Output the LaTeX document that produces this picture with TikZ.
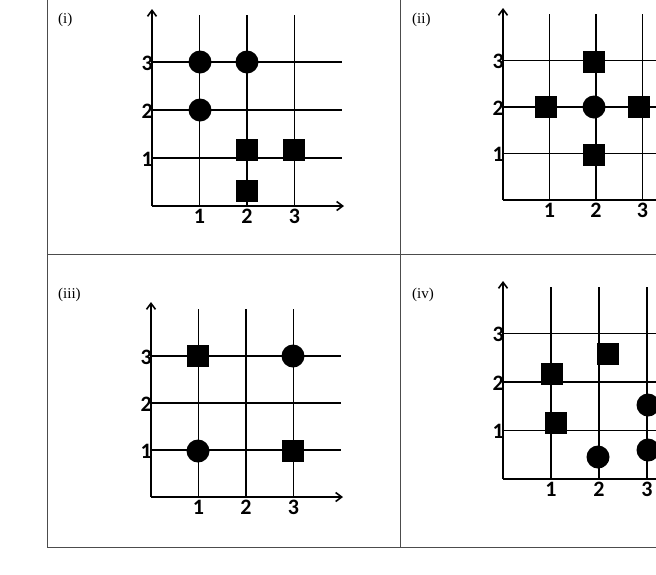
\documentclass[tikz,border=0pt]{standalone}
\usepackage{fontspec}
\setmainfont{Liberation Serif}
\newfontfamily\numfont{Carlito}
\begin{document}
\begin{tikzpicture}[x=1pt,y=-1pt,
  gl/.style={line width=1.6pt},
  ax/.style={line width=1.6pt,->,>={Straight Barb[length=6pt,width=9pt]}},
  num/.style={font=\numfont\bfseries\fontsize{22}{22}\selectfont,inner sep=0pt},
  lab/.style={font=\fontsize{15}{15}\selectfont,inner sep=0pt,anchor=north west},
  circ/.style={circle,fill=black,minimum size=23pt,inner sep=0pt},
  sq/.style={rectangle,fill=black,minimum size=22pt,inner sep=0pt}]
\usetikzlibrary{arrows.meta}
\useasboundingbox (0,0) rectangle (656,574);
\clip (0,0) rectangle (656,574);
\draw[line width=1pt,black!70] (47,-2) rectangle (700,547);
\draw[line width=1pt,black!70] (400,-2) -- (400,547) (47,254) -- (700,254);
% panel macro: #1 ox, #2 oy, #3 dx, #4 dy, #5 line top, #6 arrow top, #7 prefix
\newcommand\mypanel[7]{%
  \foreach \i in {1,2,3}{
    \draw[gl] ({#1+\i*#3},#5) -- ({#1+\i*#3},#2);
    \draw[gl] (#1,{#2-\i*#4}) -- ({#1+190},{#2-\i*#4});
    \node[num,anchor=north] (#7x\i) at ({#1+\i*#3},{#2+3}) {\i};
    \node[num,anchor=east] (#7y\i) at ({#1+1},{#2-\i*#4+1}) {\i};
  }
  \draw[ax] (#1,#2) -- (#1,#6);
  \draw[ax] (#1,#2) -- ({#1+192},#2);
}
\mypanel{152}{206}{47.5}{48}{15}{9}{a}
\mypanel{503}{200}{46.5}{46.5}{14}{8}{b}
\mypanel{151}{497}{47.5}{47}{309}{302}{c}
\mypanel{503}{479}{48}{48.5}{287}{281}{d}
\node[lab] (l1) at (58,13) {(i)};
\node[lab] (l2) at (412,13) {(ii)};
\node[lab] (l3) at (58,288) {(iii)};
\node[lab] (l4) at (412,288) {(iv)};
% (i)
\node[circ] (a1) at (200,62) {};
\node[circ] (a2) at (247,62) {};
\node[circ] (a3) at (200,110) {};
\node[sq] (a4) at (247,150) {};
\node[sq] (a5) at (294,150) {};
\node[sq] (a6) at (247,191) {};
% (ii)
\node[sq] (b1) at (594,62) {};
\node[sq] (b2) at (546,107) {};
\node[circ] (b3) at (594,107) {};
\node[sq] (b4) at (639,107) {};
\node[sq] (b5) at (594,155) {};
% (iii)
\node[sq] (c1) at (198,356) {};
\node[circ] (c2) at (293,356) {};
\node[circ] (c3) at (198,451) {};
\node[sq] (c4) at (293,451) {};
% (iv)
\node[sq] (d1) at (552,374) {};
\node[sq] (d2) at (608,354) {};
\node[sq] (d3) at (556,423) {};
\node[circ] (d4) at (598,457) {};
\node[circ] (d5) at (648,405) {};
\node[circ] (d6) at (648,450) {};
\end{tikzpicture}
\end{document}
